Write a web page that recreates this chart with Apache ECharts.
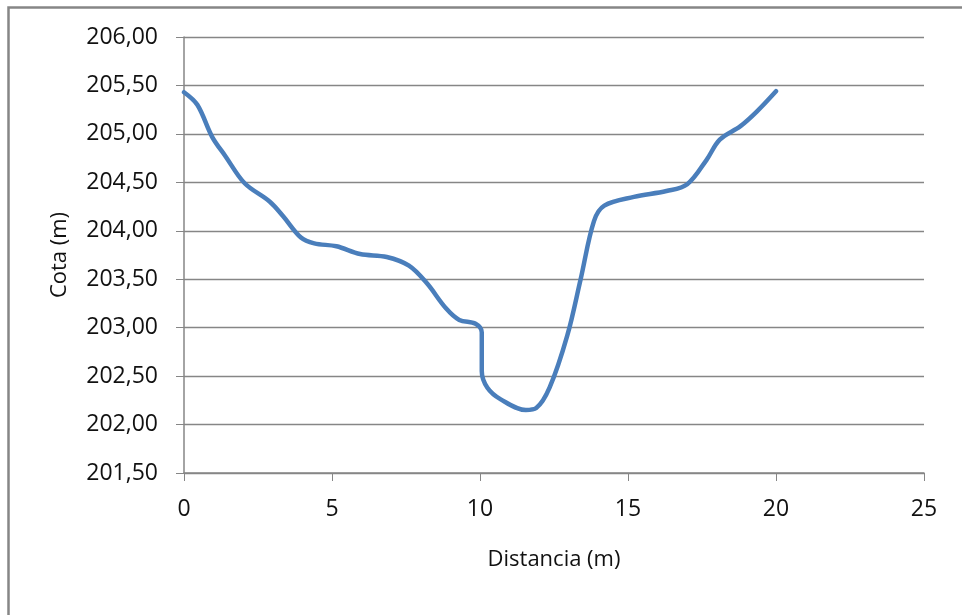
<!DOCTYPE html>
<html>
<head>
<meta charset="utf-8">
<style>
  html, body { margin: 0; padding: 0; background: #fff; }
  #chart { width: 962px; height: 615px; }
</style>
<script src="https://cdn.jsdelivr.net/npm/echarts@6/dist/echarts.min.js"></script>
</head>
<body>
<div id="chart"></div>
<script>
// Cross-section survey: distance along the section (m) and ground elevation (m)
const distancia = [0, 0.45, 0.95, 1.4, 2.05, 2.9, 3.35, 3.95, 4.4, 5.15, 5.95, 6.85, 7.6, 8.2, 8.85, 9.3, 9.85, 10.06, 10.06, 10.25, 10.7, 11.55, 11.9, 12.35, 12.95, 13.4, 13.85, 14.2, 15.2, 16.3, 17.0, 17.65, 18.1, 18.8, 19.35, 20];
const cota = [205.43, 205.3, 204.97, 204.77, 204.49, 204.3, 204.15, 203.93, 203.87, 203.84, 203.76, 203.73, 203.64, 203.46, 203.2, 203.08, 203.04, 202.95, 202.55, 202.38, 202.26, 202.15, 202.17, 202.38, 202.92, 203.5, 204.1, 204.26, 204.35, 204.41, 204.48, 204.73, 204.94, 205.08, 205.23, 205.44];

const xTicks = [0, 5, 10, 15, 20, 25];
const yTicks = [201.5, 202, 202.5, 203, 203.5, 204, 204.5, 205, 205.5, 206];

const xName = 'Distancia (m)';
const yName = 'Cota (m)';

const FONT = '"Open Sans", sans-serif';
const GRAY = '#868686';

const chart = echarts.init(document.getElementById('chart'), null, { renderer: 'canvas' });

chart.setOption({
  animation: false,
  backgroundColor: '#fff',
  textStyle: { fontFamily: FONT, color: '#000' },
  grid: { left: 184, right: 38, top: 37, bottom: 142, containLabel: false },
  graphic: [{
    type: 'rect',
    shape: { x: 8.5, y: 7.5, width: 1200, height: 900 },
    style: { fill: 'none', stroke: GRAY, lineWidth: 2.5 },
    silent: true,
    z: 100
  }],
  xAxis: {
    type: 'value',
    min: xTicks[0],
    max: xTicks[xTicks.length - 1],
    interval: xTicks[1] - xTicks[0],
    name: xName,
    nameLocation: 'middle',
    nameGap: 76,
    nameTextStyle: { fontFamily: FONT, fontSize: 22, color: '#111' },
    axisLine: { show: true, lineStyle: { color: GRAY, width: 1.5 } },
    axisTick: { show: true, inside: false, length: 8, lineStyle: { color: GRAY, width: 1 } },
    axisLabel: { margin: 25, fontFamily: FONT, fontSize: 23, color: '#111' },
    splitLine: { show: false }
  },
  yAxis: {
    type: 'value',
    min: yTicks[0],
    max: yTicks[yTicks.length - 1],
    interval: 0.5,
    name: yName,
    nameLocation: 'middle',
    nameRotate: 90,
    nameGap: 113,
    nameTextStyle: { fontFamily: FONT, fontSize: 22, color: '#111' },
    axisLine: { show: true, onZero: false, lineStyle: { color: GRAY, width: 1.5 } },
    axisTick: { show: true, inside: false, length: 8, lineStyle: { color: GRAY, width: 1 } },
    axisLabel: {
      margin: 26,
      fontFamily: FONT,
      fontSize: 23,
      color: '#111',
      formatter: v => v.toFixed(2).replace('.', ',')
    },
    splitLine: { show: true, lineStyle: { color: GRAY, width: 1.3 } }
  },
  series: [{
    type: 'line',
    data: distancia.map((d, i) => [d, cota[i]]),
    smooth: 0.35,
    showSymbol: false,
    symbol: 'none',
    lineStyle: { color: '#4a7ebb', width: 4.5, cap: 'round', join: 'round' },
    z: 5
  }]
});
</script>
</body>
</html>
